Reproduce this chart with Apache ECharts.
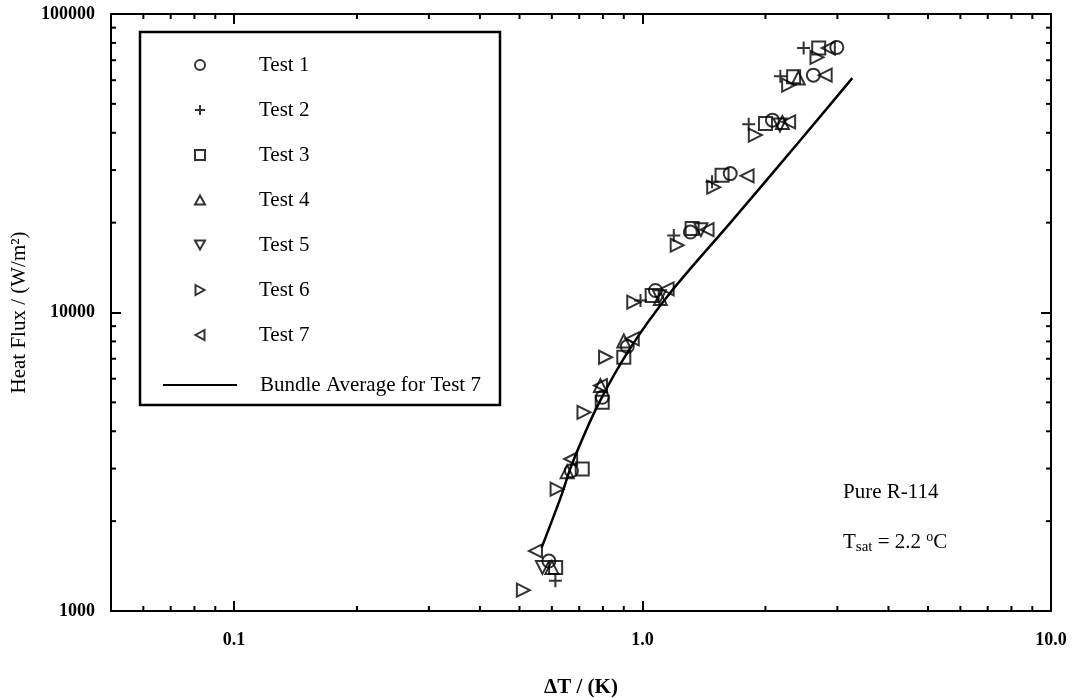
<!DOCTYPE html>
<html>
<head>
    <meta charset="utf-8">
    <script src="https://cdn.jsdelivr.net/npm/echarts@6/dist/echarts.min.js"></script>
</head>
<body style="margin:0">
    <div id="main" style="width:1076px;height:698px"></div>
    <script type="text/javascript">
        // data: [deltaT (K), heat flux (W/m2)]
        var test1 = [[2.99,77300],[2.62,62400],[2.08,44100],[1.64,29200],[1.31,18600],[1.076,11850],[0.918,7690],[0.797,5200],[0.670,2950],[0.590,1470]];
        var test2 = [[2.48,76900],[2.175,61900],[1.82,42750],[1.48,27400],[1.193,18100],[0.989,10970],[0.612,1262]];
        var test3 = [[2.70,76900],[2.344,61600],[2.0,43000],[1.566,28800],[1.323,19100],[1.056,11400],[0.90,7080],[0.797,5000],[0.712,2990],[0.613,1400]];
        var test4 = [[2.407,61000],[2.2,43300],[1.106,11130],[0.90,8030],[0.789,5690],[0.654,2930],[0.60,1400]];
        var test5 = [[2.17,42500],[1.39,18950],[1.10,11300],[0.569,1400]];
        var test6 = [[2.674,71600],[2.279,57800],[1.889,39300],[1.494,26300],[1.216,16800],[0.952,10830],[0.812,7080],[0.719,4630],[0.618,2560],[0.511,1174]];
        var test7 = [[2.85,76900],[2.80,62400],[2.279,43500],[1.803,28700],[1.439,18950],[1.149,12000],[0.944,8160],[0.789,5690],[0.667,3230],[0.547,1590]];
        var avgX = [0.566,0.630,0.674,0.781,0.935,1.171,1.66,2.434,3.263];
        var avgY = [1627,2394,3138,4950,7630,11670,20350,37760,60990];

        var xMinorTicks = [0.06,0.07,0.08,0.09,0.2,0.3,0.4,0.5,0.6,0.7,0.8,0.9,2,3,4,5,6,7,8,9];
        var yMinorTicks = [2000,3000,4000,5000,6000,7000,8000,9000,20000,30000,40000,50000,60000,70000,80000,90000];
        var testNames = ['Test 1','Test 2','Test 3','Test 4','Test 5','Test 6','Test 7'];
        var avgName = 'Bundle Average for Test 7';

        var serif = 'Liberation Serif';
        var mk = {color: 'rgba(0,0,0,0)', borderColor: '#000', borderWidth: 2};
        var sym = {
            circle: 'circle',
            plus: 'path://M5,0L5,10M0,5L10,5',
            square: 'rect',
            up: 'path://M5,0L10,9L0,9Z',
            down: 'path://M0,0L10,0L5,9Z',
            right: 'path://M0,0L9,5L0,10Z',
            left: 'path://M9,0L0,5L9,10Z'
        };

        function scatter(name, data, symbol) {
            return {
                name: name, type: 'scatter', data: data,
                symbol: symbol, symbolSize: 13,
                itemStyle: mk, xAxisIndex: 0, yAxisIndex: 0
            };
        }

        var avgData = avgX.map(function (x, i) { return [x, avgY[i]]; });

        var axisCommon = {
            axisLine: {lineStyle: {color: '#000', width: 2}},
            axisTick: {inside: true, length: 10, lineStyle: {color: '#000', width: 2}},
            splitLine: {show: false}
        };

        var myChart = echarts.init(document.getElementById('main'));
        var option = {
            backgroundColor: '#fff',
            animation: false,
            grid: {left: 111, top: 14, width: 940, height: 597, outerBoundsMode: 'none', containLabel: false},
            xAxis: [Object.assign({
                type: 'log', logBase: 10, min: 0.05, max: 10,
                name: '\u0394T / (K)', nameLocation: 'middle', nameGap: 66,
                nameTextStyle: {fontFamily: serif, fontSize: 21, fontWeight: 'bold', color: '#000'},
                axisLabel: {
                    margin: 20, fontFamily: serif, fontSize: 18, fontWeight: 'bold', color: '#000',
                    formatter: function (v) {
                        if (Math.abs(v - 0.1) < 1e-6) return '0.1';
                        if (Math.abs(v - 1) < 1e-6) return '1.0';
                        if (Math.abs(v - 10) < 1e-6) return '10.0';
                        return '';
                    }
                }
            }, axisCommon), Object.assign({
                type: 'log', logBase: 10, min: 0.05, max: 10, position: 'top',
                axisLabel: {show: false}
            }, axisCommon)],
            yAxis: [Object.assign({
                type: 'log', logBase: 10, min: 1000, max: 100000,
                name: 'Heat Flux / (W/m\u00B2)', nameLocation: 'middle', nameGap: 44, nameRotate: 90,
                nameTextStyle: {fontFamily: serif, fontSize: 21, color: '#000'},
                axisLabel: {
                    margin: 16, fontFamily: serif, fontSize: 18, fontWeight: 'bold', color: '#000',
                    formatter: function (v) { return String(Math.round(v)); }
                }
            }, axisCommon), Object.assign({
                type: 'log', logBase: 10, min: 1000, max: 100000, position: 'right',
                axisLabel: {show: false}
            }, axisCommon)],
            legend: [{
                orient: 'vertical', left: 189, top: 48,
                itemWidth: 10, itemHeight: 10, itemGap: 21,
                selectedMode: false,
                textStyle: {fontFamily: serif, fontSize: 21, lineHeight: 24, color: '#000', padding: [0, 0, 0, 49]},
                data: testNames
            }, {
                orient: 'vertical', left: 158, top: 368,
                itemWidth: 74, itemHeight: 2,
                selectedMode: false,
                textStyle: {fontFamily: serif, fontSize: 21, lineHeight: 24, color: '#000', padding: [0, 0, 0, 18]},
                data: [{name: avgName, icon: 'rect', itemStyle: {color: '#000', borderWidth: 0}}]
            }],
            graphic: [{
                type: 'rect', shape: {x: 140, y: 32, width: 360, height: 373},
                style: {fill: 'none', stroke: '#000', lineWidth: 2.5}, z: 0
            }, {
                type: 'text', left: 843, top: 482,
                style: {text: 'Pure R-114', font: '21px "Liberation Serif"', fill: '#000'}
            }, {
                type: 'text', left: 843, top: 530,
                style: {
                    text: 'T{sub|sat} = 2.2 {sup|o}C', font: '21px "Liberation Serif"', fill: '#000',
                    rich: {
                        sub: {fontFamily: serif, fontSize: 15, verticalAlign: 'bottom', padding: [10, 0, 0, 0]},
                        sup: {fontFamily: serif, fontSize: 14, verticalAlign: 'top', padding: [0, 0, 8, 0]}
                    }
                }
            }],
            series: [
                scatter('Test 1', test1, sym.circle),
                scatter('Test 2', test2, sym.plus),
                scatter('Test 3', test3, sym.square),
                scatter('Test 4', test4, sym.up),
                scatter('Test 5', test5, sym.down),
                scatter('Test 6', test6, sym.right),
                scatter('Test 7', test7, sym.left),
                {
                    name: avgName, type: 'line', data: avgData,
                    symbol: 'none', smooth: 0.3,
                    lineStyle: {color: '#000', width: 2.5}, itemStyle: {color: '#000'}
                },
                {
                    type: 'custom', silent: true, z: 5,
                    data: xMinorTicks.map(function (v) { return [v, 1000]; }),
                    renderItem: function (params, api) {
                        var b = api.coord([api.value(0), 1000]);
                        var t = api.coord([api.value(0), 100000]);
                        return {type: 'group', children: [
                            {type: 'line', shape: {x1: b[0], y1: b[1], x2: b[0], y2: b[1] - 5}, style: {stroke: '#000', lineWidth: 2}},
                            {type: 'line', shape: {x1: t[0], y1: t[1], x2: t[0], y2: t[1] + 5}, style: {stroke: '#000', lineWidth: 2}}
                        ]};
                    }
                },
                {
                    type: 'custom', silent: true, z: 5,
                    data: yMinorTicks.map(function (v) { return [0.05, v]; }),
                    renderItem: function (params, api) {
                        var l = api.coord([0.05, api.value(1)]);
                        var r = api.coord([10, api.value(1)]);
                        return {type: 'group', children: [
                            {type: 'line', shape: {x1: l[0], y1: l[1], x2: l[0] + 5, y2: l[1]}, style: {stroke: '#000', lineWidth: 2}},
                            {type: 'line', shape: {x1: r[0], y1: r[1], x2: r[0] - 5, y2: r[1]}, style: {stroke: '#000', lineWidth: 2}}
                        ]};
                    }
                }
            ]
        };
        myChart.setOption(option);
    </script>
</body>
</html>
